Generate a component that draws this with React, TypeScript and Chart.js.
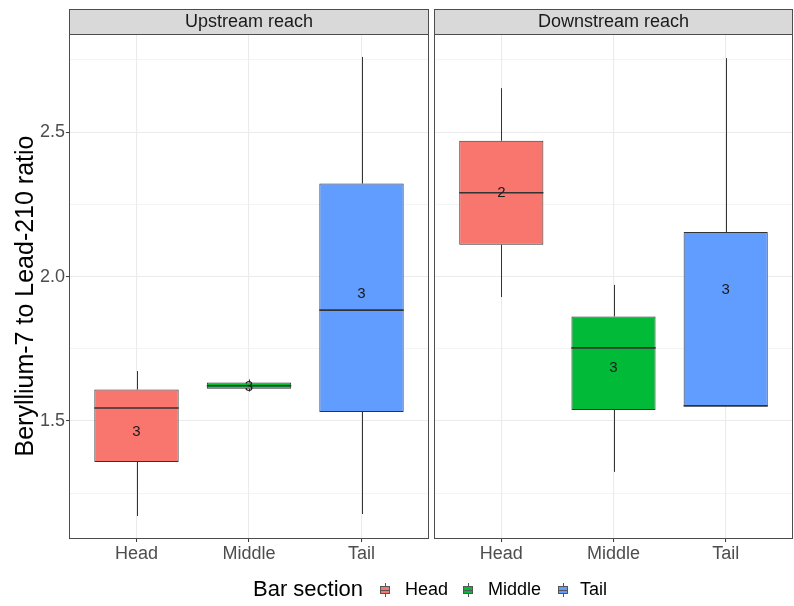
import { useEffect, useRef } from "react";
import { Chart, registerables } from "chart.js";

Chart.register(...registerables);

const FONT = "'Liberation Sans', Arial, Helvetica, sans-serif";

// Bar sections (x categories) and their fill colours
const sections = ["Head", "Middle", "Tail"];
const sectionColors = ["#F8766D", "#00BA38", "#619CFF"];

// Facet titles and axis titles
const reaches = ["Upstream reach", "Downstream reach"];
const yTitle = "Beryllium-7 to Lead-210 ratio";
const legendTitle = "Bar section";

// Upstream reach: box-plot summaries, ordered Head, Middle, Tail
const upMin = [1.171, 1.602, 1.178];
const upQ1 = [1.358, 1.612, 1.531];
const upMedian = [1.545, 1.622, 1.884];
const upQ3 = [1.609, 1.633, 2.322];
const upMax = [1.673, 1.644, 2.76];
const upMean = [1.463, 1.618, 1.941];
const upN = [3, 3, 3];

// Downstream reach: box-plot summaries, ordered Head, Middle, Tail
const downMin = [1.929, 1.324, 1.552];
const downQ1 = [2.11, 1.538, 1.552];
const downMedian = [2.29, 1.753, 1.552];
const downQ3 = [2.47, 1.862, 2.154];
const downMax = [2.652, 1.971, 2.756];
const downMean = [2.29, 1.683, 1.953];
const downN = [2, 3, 3];

// Shared y range and tick values
const yLimits = [1.0915, 2.8395];
const yMajorTicks = [1.5, 2.0, 2.5];
const yMinorTicks = [1.25, 1.75, 2.25, 2.75];
const xLimits = [0.4, 3.6];

type Summary = {
  min: number[];
  q1: number[];
  median: number[];
  q3: number[];
  max: number[];
  mean: number[];
  n: number[];
};

const upstream: Summary = { min: upMin, q1: upQ1, median: upMedian, q3: upQ3, max: upMax, mean: upMean, n: upN };
const downstream: Summary = { min: downMin, q1: downQ1, median: downMedian, q3: downQ3, max: downMax, mean: downMean, n: downN };

const W = 794;
const H = 606;
const PLOT_TOP = 34;
const PLOT_BOTTOM = 539;
const STRIP_TOP = 9;

// Whiskers, medians, counts, panel frame and strip for one facet
function facetPlugin(stats: Summary, title: string, withYTitle: boolean) {
  return {
    id: "facet",
    beforeDatasetsDraw(chart: any) {
      const { ctx } = chart;
      const y = chart.scales.y;
      const meta = chart.getDatasetMeta(0);
      ctx.save();
      ctx.strokeStyle = "#333333";
      ctx.lineWidth = 1;
      meta.data.forEach((bar: any, i: number) => {
        const { x } = bar.getProps(["x"], true);
        const xs = Math.round(x) + 0.5;
        ctx.beginPath();
        ctx.moveTo(xs, y.getPixelForValue(stats.q3[i]));
        ctx.lineTo(xs, y.getPixelForValue(stats.max[i]));
        ctx.moveTo(xs, y.getPixelForValue(stats.q1[i]));
        ctx.lineTo(xs, y.getPixelForValue(stats.min[i]));
        ctx.stroke();
      });
      ctx.restore();
    },
    afterDatasetsDraw(chart: any) {
      const { ctx } = chart;
      const y = chart.scales.y;
      const meta = chart.getDatasetMeta(0);
      ctx.save();
      meta.data.forEach((bar: any, i: number) => {
        const { x, width } = bar.getProps(["x", "width"], true);
        const ym = y.getPixelForValue(stats.median[i]);
        ctx.strokeStyle = "#333333";
        ctx.lineWidth = 1.7;
        ctx.beginPath();
        ctx.moveTo(x - width / 2, ym);
        ctx.lineTo(x + width / 2, ym);
        ctx.stroke();
      });
      ctx.fillStyle = "#1a1a1a";
      ctx.font = `15px ${FONT}`;
      ctx.textAlign = "center";
      ctx.textBaseline = "middle";
      meta.data.forEach((bar: any, i: number) => {
        const { x } = bar.getProps(["x"], true);
        ctx.fillText(String(stats.n[i]), x, y.getPixelForValue(stats.mean[i]));
      });
      ctx.restore();
    },
    afterDraw(chart: any) {
      const { ctx, chartArea: a } = chart;
      ctx.save();
      // strip
      ctx.fillStyle = "#D9D9D9";
      ctx.fillRect(a.left, STRIP_TOP, a.right - a.left, a.top - STRIP_TOP);
      ctx.strokeStyle = "#4d4d4d";
      ctx.lineWidth = 1;
      ctx.strokeRect(a.left + 0.5, STRIP_TOP + 0.5, a.right - a.left - 1, a.top - STRIP_TOP);
      ctx.fillStyle = "#1A1A1A";
      ctx.font = `18px ${FONT}`;
      ctx.textAlign = "center";
      ctx.textBaseline = "middle";
      ctx.fillText(title, (a.left + a.right) / 2, (STRIP_TOP + a.top) / 2 + 1);
      // panel frame
      ctx.strokeStyle = "#4d4d4d";
      ctx.strokeRect(a.left + 0.5, a.top + 0.5, a.right - a.left - 1, a.bottom - a.top - 1);
      // y-axis title
      if (withYTitle) {
        ctx.translate(33, 296);
        ctx.rotate(-Math.PI / 2);
        ctx.fillStyle = "#000000";
        ctx.font = `25px ${FONT}`;
        ctx.textAlign = "center";
        ctx.textBaseline = "alphabetic";
        ctx.fillText(yTitle, 0, 0);
      }
      ctx.restore();
    },
  };
}

function makeConfig(stats: Summary, title: string, withYAxis: boolean, padding: any): any {
  const allY = [...yMinorTicks, ...yMajorTicks].sort((a, b) => a - b);
  const isMajorY = (v: number) => yMajorTicks.some((t) => Math.abs(t - v) < 1e-9);
  return {
    type: "bar",
    data: {
      datasets: [
        {
          data: sections.map((_, i) => ({ x: i + 1, y: [stats.q1[i], stats.q3[i]] })),
          backgroundColor: sectionColors,
          borderColor: "#333333",
          borderWidth: 1,
          borderSkipped: false,
          categoryPercentage: 1,
          barPercentage: 0.75,
        },
      ],
    },
    options: {
      responsive: false,
      animation: false,
      devicePixelRatio: 1,
      layout: { padding },
      plugins: { legend: { display: false }, tooltip: { enabled: false } },
      scales: {
        x: {
          type: "linear",
          offset: false,
          min: xLimits[0],
          max: xLimits[1],
          afterBuildTicks: (s: any) => {
            s.ticks = sections.map((_, i) => ({ value: i + 1 }));
          },
          afterFit: (s: any) => {
            s.height = H - PLOT_BOTTOM;
          },
          ticks: {
            autoSkip: false,
            maxRotation: 0,
            padding: 1,
            color: "#4D4D4D",
            font: { family: FONT, size: 18 },
            callback: (v: number) => sections[Math.round(v) - 1] ?? "",
          },
          grid: {
            offset: false,
            color: "#EBEBEB",
            lineWidth: 1.1,
            tickColor: "#333333",
            tickLength: 3,
            tickWidth: 1,
          },
          border: { display: false },
        },
        y: {
          type: "linear",
          min: yLimits[0],
          max: yLimits[1],
          afterBuildTicks: (s: any) => {
            s.ticks = allY.map((v) => ({ value: v }));
          },
          afterFit: (s: any) => {
            s.width = withYAxis ? 69 : 0;
          },
          ticks: {
            display: withYAxis,
            autoSkip: false,
            padding: 1,
            color: "#4D4D4D",
            font: { family: FONT, size: 18 },
            callback: (v: number) => (isMajorY(v) ? v.toFixed(1) : ""),
          },
          grid: {
            color: "#EBEBEB",
            lineWidth: (c: any) => (isMajorY(c.tick.value) ? 1.1 : 0.55),
            tickColor: (c: any) => (withYAxis && isMajorY(c.tick.value) ? "#333333" : "rgba(0,0,0,0)"),
            tickLength: withYAxis ? 3 : 0,
            drawTicks: withYAxis,
            tickWidth: 1,
          },
          border: { display: false },
          title: { display: false },
        },
      },
    },
    plugins: [facetPlugin(stats, title, withYAxis)],
  };
}

function LegendKey({ color }: { color: string }) {
  return (
    <span style={{ position: "relative", display: "inline-block", width: 10, height: 14 }}>
      <span style={{ position: "absolute", left: 4.5, top: 0, width: 1, height: 14, background: "#555" }} />
      <span
        style={{
          position: "absolute",
          left: 0,
          top: 3,
          width: 8,
          height: 6,
          background: color,
          border: "1px solid #555",
        }}
      />
      <span style={{ position: "absolute", left: 0, top: 6.5, width: 10, height: 1, background: "#555" }} />
    </span>
  );
}

export default function App() {
  const leftRef = useRef<HTMLCanvasElement>(null);
  const rightRef = useRef<HTMLCanvasElement>(null);

  useEffect(() => {
    const left = new Chart(
      leftRef.current!,
      makeConfig(upstream, reaches[0], true, { top: PLOT_TOP, left: 0, right: 2, bottom: 0 })
    );
    const right = new Chart(
      rightRef.current!,
      makeConfig(downstream, reaches[1], false, { top: PLOT_TOP, left: 3, right: 1, bottom: 0 })
    );
    return () => {
      left.destroy();
      right.destroy();
    };
  }, []);

  const legendItems = [
    { label: sections[0], color: sectionColors[0], key: 380, text: 405 },
    { label: sections[1], color: sectionColors[1], key: 463, text: 488 },
    { label: sections[2], color: sectionColors[2], key: 558, text: 580 },
  ];

  return (
    <div
      style={{
        position: "fixed",
        left: 0,
        top: 0,
        width: W,
        height: H,
        background: "#ffffff",
        fontFamily: FONT,
        overflow: "hidden",
      }}
    >
      <canvas ref={leftRef} width={431} height={H} style={{ position: "absolute", left: 0, top: 0 }} />
      <canvas ref={rightRef} width={W - 431} height={H} style={{ position: "absolute", left: 431, top: 0 }} />
      <div
        style={{
          position: "absolute",
          left: 253,
          top: 578,
          fontSize: 22,
          lineHeight: "22px",
          color: "#000",
          whiteSpace: "nowrap",
        }}
      >
        {legendTitle}
      </div>
      {legendItems.map((it) => (
        <div key={it.label}>
          <div style={{ position: "absolute", left: it.key, top: 583 }}>
            <LegendKey color={it.color} />
          </div>
          <div
            style={{
              position: "absolute",
              left: it.text,
              top: 580,
              fontSize: 18,
              lineHeight: "18px",
              color: "#000",
              whiteSpace: "nowrap",
            }}
          >
            {it.label}
          </div>
        </div>
      ))}
    </div>
  );
}
